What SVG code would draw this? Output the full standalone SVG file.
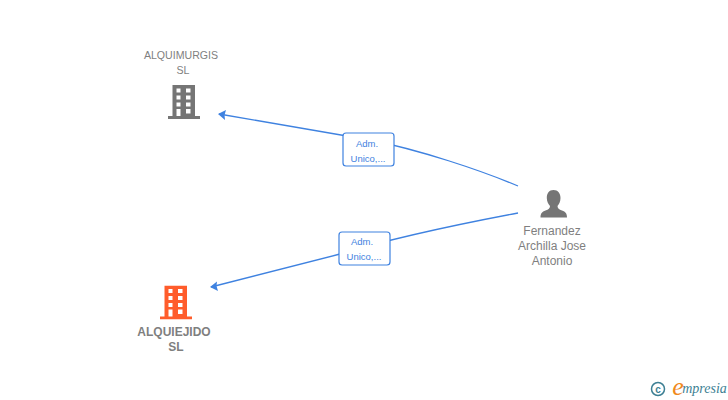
<svg xmlns="http://www.w3.org/2000/svg" width="728" height="400" viewBox="0 0 728 400">
<defs>
<style>
text{font-family:"Liberation Sans",Arial,sans-serif;text-anchor:middle}
.n{font-size:12px;fill:#7f7f7f}
.s{font-size:10.600px;fill:#7f7f7f}
.b{font-size:12px;fill:#7f7f7f;font-weight:bold}
.e{fill:none;stroke:#3f82e0;stroke-width:1.300}
.l{fill:#fff;stroke:#3f82e0;stroke-width:1.200}
.t{font-size:9.500px;fill:#3f82e0}
</style>
<symbol id="bld" viewBox="0 0 32 34">
<path fill-rule="evenodd" d="M4.500 0H27V31H32V34H0V31H4.500ZM8.500 3.500V7.500H12.500V3.500ZM18 3.500V7.500H22.500V3.500ZM8.500 10.500V14.500H12.500V10.500ZM18 10.500V14.500H22.500V10.500ZM8.500 17.500V21.500H12.500V17.500ZM18 17.500V21.500H22.500V17.500ZM8.500 24V31H12.500V24ZM18 24V28.500H22.500V24Z"/>
</symbol>
</defs>
<g id="connectors">
<path class="e" d="M518 186C480 170 420 150 370 140L219 114"/>
<path class="e" d="M518 213C470 222 400 236 340 254L211 287"/>
<path fill="#3f82e0" d="M218 114L226 110L224.500 115L225 120Z"/>
<path fill="#3f82e0" d="M210 287L217 281.500L216.500 286L218 291Z"/>
</g>
<g id="edge-label-1"><rect class="l" x="343" y="133" width="51" height="33" rx="3"/><text class="t" x="367" y="147">Adm.</text><text class="t" x="368" y="162">Unico,...</text></g>
<g id="edge-label-2"><rect class="l" x="339" y="232" width="51" height="33" rx="3"/><text class="t" x="362" y="245">Adm.</text><text class="t" x="364" y="260">Unico,...</text></g>
<g id="node-alquimurgis"><text class="s" x="181" y="59">ALQUIMURGIS</text><text class="s" x="183" y="74">SL</text><use href="#bld" x="168" y="85" width="32" height="34" fill="#757575"/></g>
<g id="node-alquiejido"><use href="#bld" x="160" y="285.500" width="32" height="34" fill="#ff5c2b"/><text class="b" x="174" y="336">ALQUIEJIDO</text><text class="b" x="176" y="351">SL</text></g>
<g id="node-person">
<path fill="#757575" d="M553.500 190C558 190 560.500 193.500 560.500 198C560.500 201.500 559 204.500 557.500 206C557.500 208 559 209.500 562 210.500C565.500 211.700 567 213.500 567 217.500H540.500C540.500 213.500 542 211.700 545.500 210.500C548.500 209.500 550 208 550 206C548.500 204.500 546.800 201.500 546.800 198C546.800 193.500 549 190 553.500 190Z"/>
<text class="n" x="552" y="235">Fernandez</text><text class="n" x="552" y="250">Archilla Jose</text><text class="n" x="552" y="265">Antonio</text></g>
<g id="logo">
<circle cx="658" cy="389" r="6.500" fill="none" stroke="#3d7f93" stroke-width="1.500"/>
<text x="658" y="392.500" style="font-size:10px;font-weight:bold;fill:#3d7f93">c</text>
<text x="678" y="395" style="font-size:26px;font-family:'Liberation Serif',serif;font-style:italic;fill:#f08a1d">e</text>
<text x="704.500" y="393" style="font-size:14px;font-family:'Liberation Serif',serif;font-style:italic;fill:#3d7f93">mpresia</text>
</g>
</svg>
